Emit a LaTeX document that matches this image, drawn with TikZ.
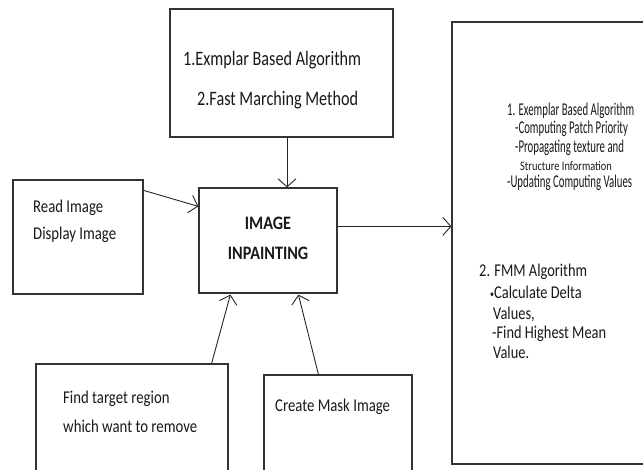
\documentclass[tikz,border=0pt]{standalone}
\usepackage{fontspec}
\setmainfont{Carlito}
\newfontfamily\stA[FakeStretch=0.82]{Carlito}
\newfontfamily\stT[FakeStretch=0.79]{Carlito}
\newfontfamily\stC[FakeStretch=0.85]{Carlito}
\newfontfamily\stR[FakeStretch=0.6]{Carlito}
\newfontfamily\stS[FakeStretch=0.8]{Carlito}
\usetikzlibrary{arrows.meta,calc}
\begin{document}
\begin{tikzpicture}[x=1pt,y=-1pt,
  box/.style={draw=black!80, line width=1.2pt, inner sep=0pt},
  txt/.style={anchor=base west, inner sep=0pt, text=black!90, font=\stA\fontsize{18}{20}\selectfont},
  toptxt/.style={txt, font=\stT\fontsize{20.5}{22}\selectfont},
  midtxt/.style={anchor=base, inner sep=0pt, text=black!90, font=\stC\fontsize{19}{21}\selectfont\bfseries},
  condtxt/.style={txt, font=\stR\fontsize{18}{20}\selectfont},
  smalltxt/.style={txt, font=\stS\fontsize{13}{15}\selectfont},
  fmmtxt/.style={txt, font=\stS\fontsize{18}{20}\selectfont},
  conn/.style={draw=black!85, line width=0.9pt, -{Straight Barb[length=8pt,width=18pt]}}]
\useasboundingbox (0,0) rectangle (643,470);
\fill[white] (0,0) rectangle (643,470);

% boxes
\node[box, minimum width=223pt, minimum height=128pt] (top) at (281.5,73) {};
\node[box, minimum width=138pt, minimum height=105pt] (center) at (268,240.5) {};
\node[box, minimum width=130pt, minimum height=114pt] (left) at (78,237) {};
\node[box, minimum width=210pt, minimum height=442pt] (right) at (557,243) {};
\node[box, minimum width=192pt, minimum height=118pt] (bl) at (132,423) {};
\node[box, minimum width=148pt, minimum height=107pt] (bc) at (338,428.5) {};

% texts
\node[toptxt] (t1) at (183,66) {1.Exmplar Based Algorithm};
\node[toptxt] (t2) at (197,106) {2.Fast Marching Method};

\node[txt] (l1) at (33,213) {Read Image};
\node[txt] (l2) at (33,240) {Display Image};

\node[midtxt] (c1) at (268,230) {IMAGE};
\node[midtxt] (c2) at (268,260) {INPAINTING};

\node[txt] (b1) at (63,403) {Find target region};
\node[txt] (b2) at (63,432) {which want to remove};

\node[txt] (m1) at (275,411) {Create Mask Image};

\node[condtxt] (r1) at (507,116) {1. Exemplar Based Algorithm};
\node[condtxt] (r2) at (515,134) {-Computing Patch Priority};
\node[condtxt] (r3) at (515,153) {-Propagating texture and};
\node[smalltxt] (r4) at (520,171) {Structure Information};
\node[condtxt] (r5) at (507,188) {-Updating Computing Values};

\node[fmmtxt] (f1) at (479,277) {2. FMM Algorithm};
\node[fmmtxt] (f2) at (490,299) {\raisebox{1pt}{\fontsize{10}{10}\selectfont\textbullet}Calculate Delta};
\node[fmmtxt] (f3) at (493,320) {Values,};
\node[fmmtxt] (f4) at (492,339) {-Find Highest Mean};
\node[fmmtxt] (f5) at (493,359) {Value.};

% connectors
\draw[conn] ($(left.north east)+(0,11)$) -- ($(center.north west)+(0,19)$);
\draw[conn] ($(top.south)+(5.5,0)$) -- ($(center.north)+(19,0)$);
\draw[conn] ($(center.north east)+(0,39)$) -- ($(right.north west)+(0,205)$);
\draw[conn] ($(bl.north east)+(-17,0)$) -- ($(center.south west)+(32,1)$);
\draw[conn] ($(bc.north west)+(55,0)$) -- ($(center.south west)+(100,1)$);
\end{tikzpicture}
\end{document}
